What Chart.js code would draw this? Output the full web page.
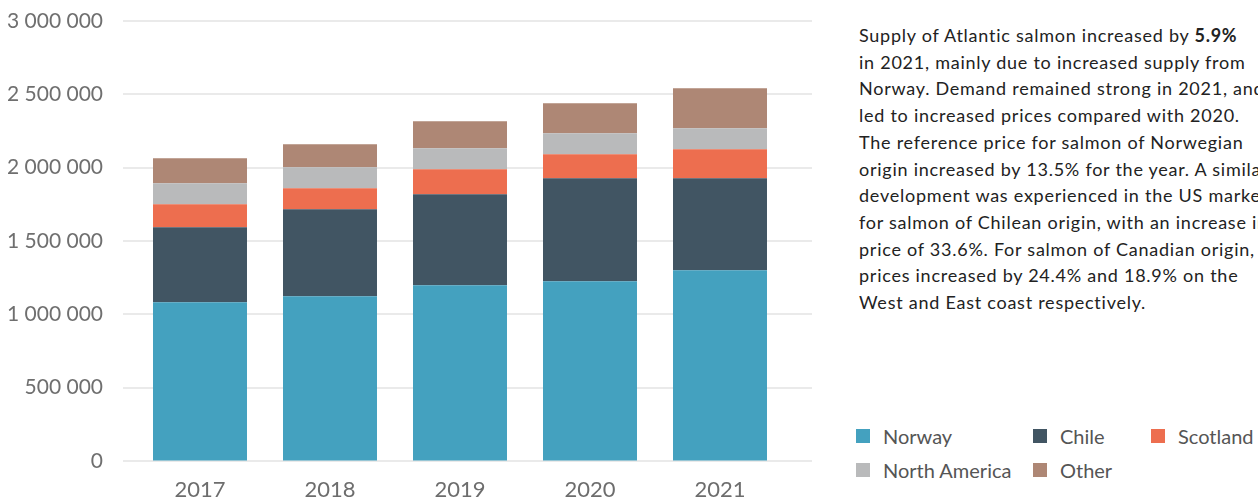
<!DOCTYPE html>
<html>
<head>
<meta charset="utf-8">
<script src="https://cdn.jsdelivr.net/npm/chart.js@4"></script>
<style>
  html, body { margin: 0; padding: 0; background: #fff; overflow: hidden; }
  body { width: 1258px; height: 501px; position: relative; font-family: Lato, "Noto Sans", sans-serif; }
  #chartBox { position: absolute; left: 0; top: 0; width: 820px; height: 501px; }
  #note {
    position: absolute; left: 859px; top: 22px;
    font-size: 18px; line-height: 26.7px; color: #222; letter-spacing: 0.75px;
    white-space: nowrap;
  }
  #note b { font-weight: 700; }
  #legend {
    position: absolute; left: 856px; top: 424px;
    display: grid; grid-template-columns: 177px 118px 120px; row-gap: 10px;
    font-size: 20px; color: #555;
  }
  .item { display: flex; align-items: center; height: 24px; white-space: nowrap; }
  .swatch { width: 14px; height: 14px; margin-right: 13px; flex: none; }
</style>
</head>
<body>
<div id="chartBox"><canvas id="supplyChart"></canvas></div>
<div id="note">
Supply of Atlantic salmon increased by <b>5.9%</b><br>
in 2021, mainly due to increased supply from<br>
Norway. Demand remained strong in 2021, and<br>
led to increased prices compared with 2020.<br>
The reference price for salmon of Norwegian<br>
origin increased by 13.5% for the year. A similar<br>
development was experienced in the US market<br>
for salmon of Chilean origin, with an increase in<br>
price of 33.6%. For salmon of Canadian origin,<br>
prices increased by 24.4% and 18.9% on the<br>
West and East coast respectively.
</div>
<div id="legend"></div>
<script>
  // supply volumes by origin, tonnes
  const years = ["2017", "2018", "2019", "2020", "2021"];
  const norway = [1083000, 1124000, 1199000, 1226000, 1301000];
  const chile = [511000, 593000, 620000, 702000, 627000];
  const scotland = [157000, 143000, 170000, 163000, 197000];
  const northAmerica = [143000, 143000, 143000, 143000, 143000];
  const other = [170000, 156000, 184000, 205000, 273000];
  const yTicks = [0, 500000, 1000000, 1500000, 2000000, 2500000, 3000000];

  const series = [
    { label: "Norway", data: norway, color: "#44a1bf" },
    { label: "Chile", data: chile, color: "#415563" },
    { label: "Scotland", data: scotland, color: "#ed6e4f" },
    { label: "North America", data: northAmerica, color: "#b9babb" },
    { label: "Other", data: other, color: "#ae8775" }
  ];

  // horizontal grid lines run a bit past the plot on both sides
  const gridPlugin = {
    id: "wideGrid",
    beforeDatasetsDraw(chart) {
      const ctx = chart.ctx;
      const y = chart.scales.y;
      ctx.save();
      ctx.strokeStyle = "#e3e3e3";
      ctx.lineWidth = 1.5;
      yTicks.forEach(v => {
        const py = Math.round(y.getPixelForValue(v));
        ctx.beginPath();
        ctx.moveTo(123, py);
        ctx.lineTo(812, py);
        ctx.stroke();
      });
      ctx.restore();
    }
  };

  const chart = new Chart(document.getElementById("supplyChart"), {
    type: "bar",
    data: {
      labels: years,
      datasets: series.map(s => ({
        label: s.label,
        data: s.data,
        backgroundColor: s.color,
        borderWidth: 0,
        categoryPercentage: 1,
        barPercentage: 0.723
      }))
    },
    options: {
      responsive: true,
      maintainAspectRatio: false,
      animation: false,
      layout: { padding: { top: 21, right: 35, left: 0, bottom: 0 } },
      plugins: { legend: { display: false }, tooltip: { enabled: false } },
      scales: {
        x: {
          stacked: true,
          grid: { display: false, drawTicks: false },
          border: { display: false },
          ticks: { color: "#6d6d6d", padding: 16, font: { family: "Lato", size: 22 } },
          afterFit(scale) { scale.height = 40; }
        },
        y: {
          stacked: true,
          min: 0,
          max: 3000000,
          afterBuildTicks(scale) { scale.ticks = yTicks.map(v => ({ value: v })); },
          // invisible tick marks push the labels away from the plot
          grid: { display: true, drawOnChartArea: false, drawTicks: true, tickLength: 32, color: "rgba(0,0,0,0)" },
          border: { display: false },
          ticks: {
            color: "#6f6f6f",
            padding: 0,
            font: { family: "Lato", size: 21 },
            callback: v => v.toString().replace(/\B(?=(\d{3})+(?!\d))/g, " ")
          },
          afterFit(scale) { scale.width = 135; }
        }
      }
    },
    plugins: [gridPlugin]
  });

  // legend built from the datasets
  const legend = document.getElementById("legend");
  chart.data.datasets.forEach(ds => {
    const item = document.createElement("div");
    item.className = "item";
    item.innerHTML = `<span class="swatch" style="background:${ds.backgroundColor}"></span>${ds.label}`;
    legend.appendChild(item);
  });
</script>
</body>
</html>
